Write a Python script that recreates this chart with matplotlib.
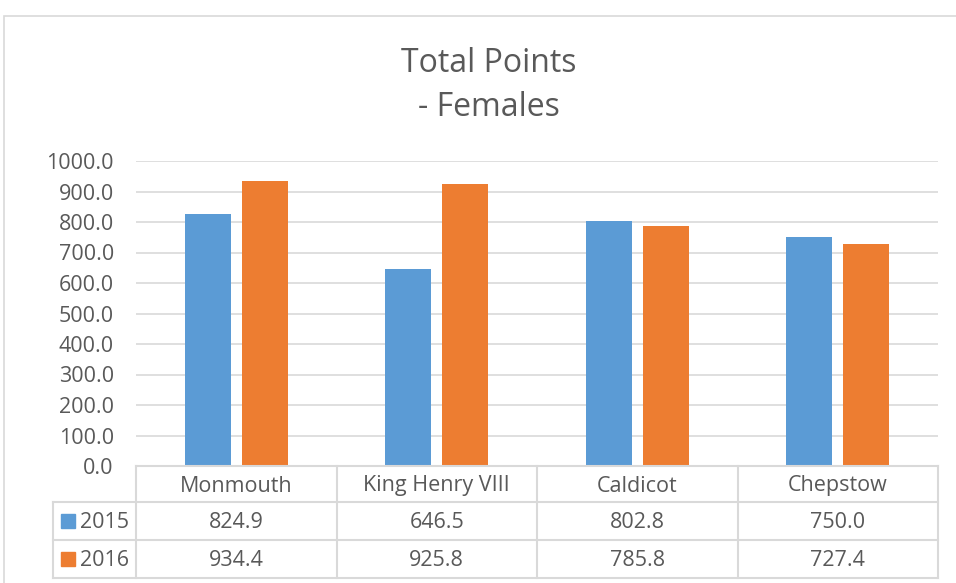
import matplotlib.pyplot as plt
import matplotlib.transforms as mtransforms
from matplotlib.patches import Rectangle
from matplotlib.lines import Line2D
import numpy as np

plt.rcParams['font.family'] = ['Open Sans', 'DejaVu Sans']

# data
schools = ["Monmouth", "King Henry VIII", "Caldicot", "Chepstow"]
years = ["2015", "2016"]
points_2015 = [824.9, 646.5, 802.8, 750.0]
points_2016 = [934.4, 925.8, 785.8, 727.4]

blue = "#5b9bd5"
orange = "#ed7d31"
grid_col = "#d9d9d9"
text_col = "#595959"

W, H = 956, 583
fig = plt.figure(figsize=(W / 100, H / 100), dpi=100)

# chart frame (only left and top edges visible)
fig.add_artist(Rectangle((4 / W, -0.05), 1.1, 1 - 16 / H + 0.05,
                         transform=fig.transFigure, fill=False,
                         edgecolor=grid_col, linewidth=1.2))

ax = fig.add_axes([136 / W, 1 - 466 / H, (938 - 136) / W, (466 - 161) / H])
x = np.arange(len(schools))
bw = 0.23
off = 0.142
ax.bar(x - off, points_2015, bw, color=blue)
ax.bar(x + off, points_2016, bw, color=orange)

ax.set_xlim(-0.5, len(schools) - 0.5)
ax.set_ylim(0, 1000)
ax.set_yticks(np.arange(0, 1001, 100))
ax.set_yticklabels([f"{v:.1f}" for v in np.arange(0, 1001, 100)])
ax.yaxis.grid(True, color=grid_col, linewidth=1.2)
ax.set_axisbelow(True)
ax.set_xticks([])
for s in ax.spines.values():
    s.set_visible(False)
ax.tick_params(axis='y', length=0, pad=16, labelsize=15.5, labelcolor=text_col)

fig.text(489 / W, 1 - 64 / H, "Total Points", ha='center', va='center',
         fontsize=23, color=text_col)
fig.text(489 / W, 1 - 108 / H, "- Females", ha='center', va='center',
         fontsize=23, color=text_col)

# data table under the axes
trans = mtransforms.blended_transform_factory(ax.transData, ax.transAxes)
ah = 466 - 161
row_edges = [0, -36 / ah, -74 / ah, -112 / ah]
nudge = 2 / ah
left_x = -0.5 - (136 - 53) / ((938 - 136) / len(schools))
line_kw = dict(color=grid_col, linewidth=1.5, transform=trans, clip_on=False)

ax.add_line(Line2D([-0.5, len(schools) - 0.5], [0, 0], **line_kw))
for y in row_edges[1:]:
    ax.add_line(Line2D([left_x, len(schools) - 0.5], [y, y], **line_kw))
for b in np.arange(len(schools) + 1) - 0.5:
    ax.add_line(Line2D([b, b], [0, row_edges[-1]], **line_kw))
ax.add_line(Line2D([left_x, left_x], [row_edges[1], row_edges[-1]], **line_kw))

tkw = dict(transform=trans, ha='center', va='center', fontsize=15.5,
           color=text_col, clip_on=False)
for i, name in enumerate(schools):
    ax.text(i, (row_edges[0] + row_edges[1]) / 2 - nudge, name, **tkw)
    ax.text(i, (row_edges[1] + row_edges[2]) / 2 - nudge, f"{points_2015[i]:.1f}", **tkw)
    ax.text(i, (row_edges[2] + row_edges[3]) / 2 - nudge, f"{points_2016[i]:.1f}", **tkw)

# legend keys in the table
unit = (938 - 136) / len(schools)
for r, (yr, col) in enumerate(zip(years, [blue, orange])):
    yc = (row_edges[r + 1] + row_edges[r + 2]) / 2
    sq = 14 / ah
    ax.add_patch(Rectangle((left_x + 8 / unit, yc - sq / 2), 14 / unit, sq,
                           transform=trans, color=col, clip_on=False))
    ax.text(left_x + 27 / unit, yc - nudge, yr, transform=trans, ha='left',
            va='center', fontsize=15.5, color=text_col, clip_on=False)

fig.savefig("out.png", dpi=100)
